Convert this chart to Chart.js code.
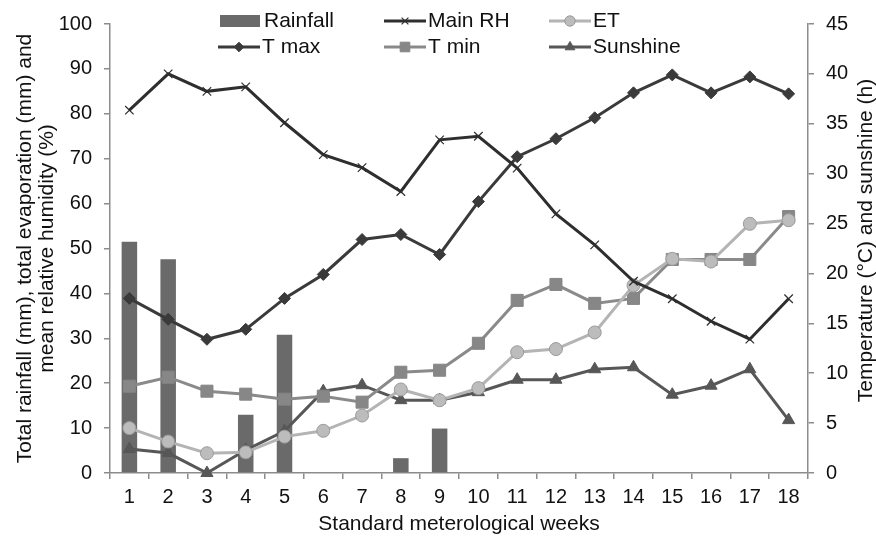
<!DOCTYPE html>
<html>
<head>
<meta charset="utf-8">
<title>Weekly weather</title>
<script src="https://cdn.jsdelivr.net/npm/chart.js@4"></script>
<style>
  html, body { margin: 0; padding: 0; background: #fff; }
  canvas { display: block; }
</style>
</head>
<body>
<canvas id="weather-chart" width="876" height="540"></canvas>
<script>
// Standard meteorological weeks
const weeks = ["1", "2", "3", "4", "5", "6", "7", "8", "9", "10", "11", "12", "13", "14", "15", "16", "17", "18"];

// left axis: mm / %
const rainfall = [51.5, 47.6, 0, 13.0, 30.8, 0, 0, 3.3, 9.9, 0, 0, 0, 0, 0, 0, 0, 0, 0];
const mainRH = [80.8, 88.9, 85.0, 86.0, 78.0, 70.9, 68.0, 62.7, 74.2, 75.0, 67.9, 57.7, 50.8, 42.7, 38.8, 33.8, 29.8, 38.8];
const et = [10.0, 7.0, 4.4, 4.6, 8.1, 9.4, 12.8, 18.6, 16.2, 18.9, 26.9, 27.6, 31.3, 41.8, 47.7, 47.1, 55.5, 56.3];

// right axis: degC / hours
const tMax = [17.5, 15.4, 13.4, 14.4, 17.5, 19.9, 23.4, 23.9, 21.9, 27.2, 31.7, 33.5, 35.6, 38.1, 39.9, 38.1, 39.7, 38.0];
const tMin = [8.7, 9.6, 8.2, 7.9, 7.4, 7.7, 7.1, 10.1, 10.3, 13.0, 17.3, 18.9, 17.0, 17.5, 21.4, 21.4, 21.4, 25.7];
const sunshine = [2.4, 2.0, 0, 2.3, 4.2, 8.2, 8.8, 7.3, 7.3, 8.1, 9.35, 9.35, 10.4, 10.6, 7.85, 8.75, 10.4, 5.3];

const leftTicks = [0, 100, 10];
const rightTicks = [0, 45, 5];

const FONT = "'Liberation Sans', Arial, sans-serif";
const axisColor = "#8c8c8c";

// legend drawn by hand so it can sit over the top of the plot like the original
const legendPlugin = {
  id: "overlayLegend",
  afterDraw(chart) {
    const ctx = chart.ctx;
    const items = [
      { ds: 0, x: 220, y: 21 },
      { ds: 1, x: 384, y: 21 },
      { ds: 2, x: 549, y: 21 },
      { ds: 3, x: 218, y: 47 },
      { ds: 4, x: 384, y: 47 },
      { ds: 5, x: 549, y: 47 },
    ];
    ctx.save();
    ctx.font = "21px " + FONT;
    ctx.textBaseline = "middle";
    ctx.fillStyle = "#111";
    items.forEach((it) => {
      const ds = chart.data.datasets[it.ds];
      if (ds.type === "bar") {
        ctx.fillStyle = ds.backgroundColor;
        ctx.fillRect(it.x, it.y - 6, 40, 12);
      } else {
        ctx.strokeStyle = ds.borderColor;
        ctx.lineWidth = ds.borderWidth;
        ctx.beginPath();
        ctx.moveTo(it.x, it.y);
        ctx.lineTo(it.x + 42, it.y);
        ctx.stroke();
        ctx.fillStyle = ds.pointBackgroundColor;
        ctx.strokeStyle = ds.pointBorderColor;
        ctx.lineWidth = ds.pointBorderWidth;
        Chart.helpers.drawPoint(ctx, {
          pointStyle: ds.pointStyle,
          radius: ds.pointRadius * 0.8,
          rotation: 0,
          borderWidth: ds.pointBorderWidth,
        }, it.x + 21, it.y);
      }
      ctx.fillStyle = "#111";
      ctx.fillText(ds.label, it.x + 44, it.y);
    });

    // right axis title, reading bottom-to-top
    const area = chart.chartArea;
    ctx.translate(866, (area.top + area.bottom) / 2 - 8);
    ctx.rotate(-Math.PI / 2);
    ctx.textAlign = "center";
    ctx.fillText("Temperature (°C) and sunshine (h)", 0, 0);
    ctx.restore();
  },
};

const ctx = document.getElementById("weather-chart").getContext("2d");

new Chart(ctx, {
  type: "bar",
  data: {
    labels: weeks,
    datasets: [
      {
        type: "bar",
        label: "Rainfall",
        data: rainfall,
        yAxisID: "y",
        backgroundColor: "#6a6a6a",
        barPercentage: 0.4,
        categoryPercentage: 1,
        order: 10,
      },
      {
        type: "line",
        label: "Main RH",
        data: mainRH,
        yAxisID: "y",
        borderColor: "#2e2e2e",
        borderWidth: 3,
        pointStyle: "crossRot",
        pointRadius: 6,
        pointBorderWidth: 1.2,
        pointBorderColor: "#2e2e2e",
        pointBackgroundColor: "#2e2e2e",
        tension: 0,
        clip: false,
        order: 1,
      },
      {
        type: "line",
        label: "ET",
        data: et,
        yAxisID: "y",
        borderColor: "#b4b4b4",
        borderWidth: 3,
        pointStyle: "circle",
        pointRadius: 6.5,
        pointBorderWidth: 1,
        pointBorderColor: "#9a9a9a",
        pointBackgroundColor: "#bcbcbc",
        tension: 0,
        clip: false,
        order: 3,
      },
      {
        type: "line",
        label: "T max",
        data: tMax,
        yAxisID: "y1",
        borderColor: "#3a3a3a",
        borderWidth: 3,
        pointStyle: "rectRot",
        pointRadius: 6,
        pointBorderWidth: 1,
        pointBorderColor: "#3a3a3a",
        pointBackgroundColor: "#3a3a3a",
        tension: 0,
        clip: false,
        order: 2,
      },
      {
        type: "line",
        label: "T min",
        data: tMin,
        yAxisID: "y1",
        borderColor: "#8a8a8a",
        borderWidth: 3,
        pointStyle: "rect",
        pointRadius: 8.5,
        pointBorderWidth: 1,
        pointBorderColor: "#858585",
        pointBackgroundColor: "#878787",
        tension: 0,
        clip: false,
        order: 4,
      },
      {
        type: "line",
        label: "Sunshine",
        data: sunshine,
        yAxisID: "y1",
        borderColor: "#575757",
        borderWidth: 3,
        pointStyle: "triangle",
        pointRadius: 7,
        pointBorderWidth: 1,
        pointBorderColor: "#575757",
        pointBackgroundColor: "#575757",
        tension: 0,
        clip: false,
        order: 5,
      },
    ],
  },
  options: {
    responsive: false,
    animation: false,
    devicePixelRatio: 1,
    layout: { padding: { top: 24, left: 0, right: 0, bottom: 0 } },
    plugins: {
      legend: { display: false },
      tooltip: { enabled: false },
    },
    scales: {
      x: {
        type: "category",
        offset: true,
        grid: {
          offset: true,
          drawOnChartArea: false,
          drawTicks: true,
          tickLength: 6,
          color: axisColor,
          lineWidth: 1.5,
        },
        border: { color: axisColor, width: 1.5 },
        ticks: {
          font: { family: FONT, size: 20 },
          color: "#111",
          padding: 6,
          maxRotation: 0,
          autoSkip: false,
        },
        title: {
          display: true,
          text: "Standard meterological weeks",
          font: { family: FONT, size: 21 },
          color: "#111",
          padding: { top: 0, bottom: 3 },
        },
        afterFit: (scale) => { scale.height = 67; },
      },
      y: {
        position: "left",
        min: leftTicks[0],
        max: leftTicks[1],
        grid: {
          drawOnChartArea: false,
          drawTicks: true,
          tickLength: 6,
          color: axisColor,
          lineWidth: 1.5,
        },
        border: { color: axisColor, width: 1.5 },
        ticks: {
          stepSize: leftTicks[2],
          font: { family: FONT, size: 20 },
          color: "#111",
          padding: 12,
        },
        title: {
          display: true,
          text: ["Total rainfall (mm), total evaporation (mm) and", "mean relative humidity (%)"],
          font: { family: FONT, size: 21, lineHeight: 1.05 },
          color: "#111",
          padding: { top: 14, bottom: 0 },
        },
        afterFit: (scale) => { scale.width = 110; },
      },
      y1: {
        position: "right",
        min: rightTicks[0],
        max: rightTicks[1],
        grid: {
          drawOnChartArea: false,
          drawTicks: true,
          tickLength: 6,
          color: axisColor,
          lineWidth: 1.5,
        },
        border: { color: axisColor, width: 1.5 },
        ticks: {
          stepSize: rightTicks[2],
          font: { family: FONT, size: 20 },
          color: "#111",
          padding: 12,
        },
        afterFit: (scale) => { scale.width = 68; },
      },
    },
  },
  plugins: [legendPlugin],
});
</script>
</body>
</html>
